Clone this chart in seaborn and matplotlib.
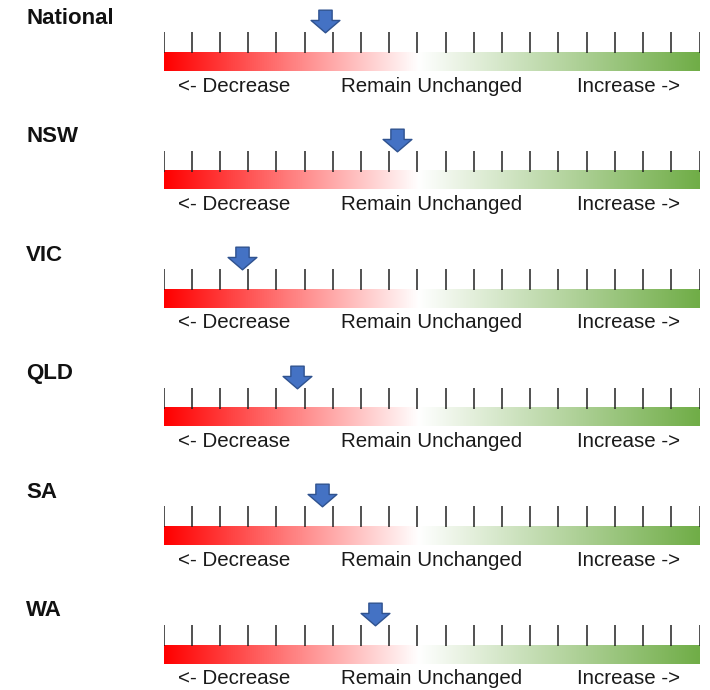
import numpy as np
import matplotlib
matplotlib.use("Agg")
import matplotlib.pyplot as plt
from matplotlib.path import Path
from matplotlib.colors import LinearSegmentedColormap
import seaborn as sns

sns.set_style("white")
plt.rcParams['font.family'] = ['Liberation Sans', 'DejaVu Sans']

# data: arrow position on a 0..19 tick scale (9.5 = remain unchanged)
regions = ["National", "NSW", "VIC", "QLD", "SA", "WA"]
positions = [5.71, 8.29, 2.79, 4.74, 5.62, 7.51]
scale_labels = ["<- Decrease", "Remain Unchanged", "Increase ->"]
label_pos = [2.5, 9.5, 16.5]
n_ticks = 20

# block arrow pointing down
arrow_verts = [(-0.23, 0.393), (0.23, 0.393), (0.23, 0.036), (0.5, 0.036),
               (0.0, -0.393), (-0.5, 0.036), (-0.23, 0.036), (-0.23, 0.393)]
arrow_codes = [Path.MOVETO] + [Path.LINETO] * 6 + [Path.CLOSEPOLY]
arrow_marker = Path(arrow_verts, arrow_codes)

grad = LinearSegmentedColormap.from_list(
    "redgreen", [(0, "#ff0000"), (0.475, "#ffffff"), (1, "#70ad47")])

W, H = 710, 690
fig = plt.figure(figsize=(W / 100, H / 100), dpi=100)

step = 118.5
left_px, right_px = 163.5, 699.5
title_x = -(left_px - 26) / (right_px - left_px) * (n_ticks - 1)

for i, (name, val) in enumerate(zip(regions, positions)):
    top = step * i
    ax = fig.add_axes([left_px / W, 1 - (top + 100) / H,
                       (right_px - left_px) / W, 100 / H])
    ax.axis('off')

    # gradient bar
    ax.imshow(np.linspace(0, 1, 256)[None, :], cmap=grad, aspect='auto',
              extent=(0, n_ticks - 1, 71, 52.5), zorder=1)
    # tick marks
    ax.vlines(np.arange(n_ticks), 32, 53, color='#222222', lw=1.1, zorder=2)
    # arrow
    sns.scatterplot(x=[val], y=[21], marker=arrow_marker, s=430,
                    color='#4472c4', edgecolor='#2f528f', linewidth=1.0,
                    ax=ax, zorder=3, legend=False)
    ax.set_xlim(0, n_ticks - 1)
    ax.set_ylim(100, 0)

    for lab, x in zip(scale_labels, label_pos):
        ax.text(x, 86, lab, ha='center', va='center', fontsize=14.8,
                color='#1a1a1a')
    ax.text(title_x, 18.5, name, ha='left', va='center', fontsize=16,
            fontweight='bold', color='#111111', clip_on=False)

fig.savefig("out.png", dpi=100)
